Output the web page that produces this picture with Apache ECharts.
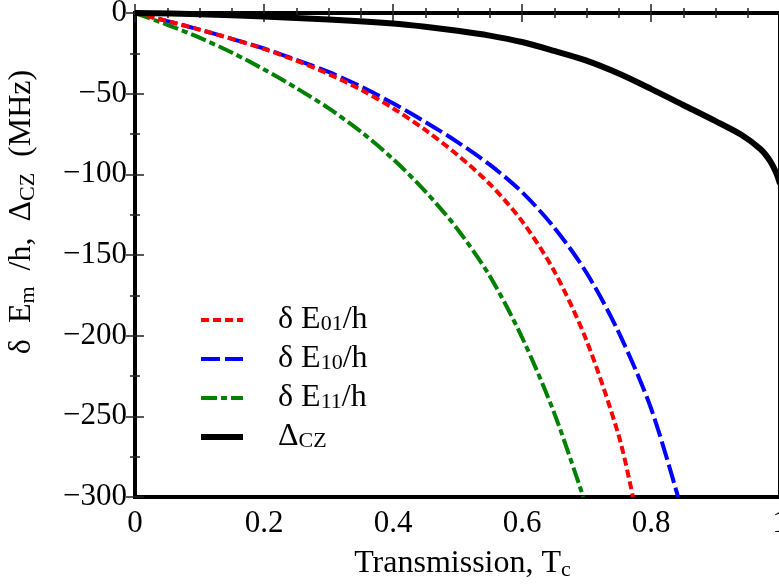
<!DOCTYPE html>
<html>
<head>
<meta charset="utf-8">
<script src="https://cdn.jsdelivr.net/npm/echarts@6/dist/echarts.min.js"></script>
<style>html,body{margin:0;padding:0;background:#fff}#c{width:779px;height:588px}</style>
</head>
<body>
<div id="c"></div>
<script>
// ---- data ----
var e01X = [0, 0.05, 0.1, 0.15, 0.2, 0.25, 0.3, 0.35, 0.4, 0.45, 0.5, 0.55, 0.6, 0.65, 0.7, 0.75, 0.772];
var e01Y = [0, -5, -10.3, -16, -22.3, -29.5, -37.8, -47.5, -59, -72.5, -88, -106, -129, -160, -203, -262, -300];
var e10X = [0, 0.05, 0.1, 0.15, 0.2, 0.25, 0.3, 0.35, 0.4, 0.45, 0.5, 0.55, 0.6, 0.65, 0.7, 0.75, 0.8, 0.842];
var e10Y = [0, -5, -10.3, -16, -22, -29, -36.5, -45.5, -56, -67.5, -80, -94, -111, -133, -161, -198, -245, -300];
var e11X = [0, 0.05, 0.1, 0.15, 0.2, 0.25, 0.3, 0.35, 0.4, 0.45, 0.5, 0.55, 0.6, 0.65, 0.695];
var e11Y = [0, -7.3, -15.3, -24.5, -35, -46.5, -59, -73.5, -90.5, -110.5, -134, -163, -201, -248, -300];
var czX = [0, 0.1, 0.2, 0.3, 0.4, 0.45, 0.5, 0.55, 0.6, 0.65, 0.7, 0.75, 0.8, 0.85, 0.9, 0.94, 0.97, 0.985, 0.995, 1.0];
var czY = [0, -0.7, -2.2, -4, -6.5, -8.5, -11, -14, -18, -23.5, -29.5, -37.5, -47, -57, -67, -75.5, -84.5, -92, -100, -106];
var seriesNames = ['E01', 'E10', 'E11', 'CZ'];
var xTicks = [0, 0.2, 0.4, 0.6, 0.8, 1];
var yTicks = [0, -50, -100, -150, -200, -250, -300];

function zip(xs, ys) { return xs.map(function (x, i) { return [x, ys[i]]; }); }

var FONT = 'Liberation Serif';
var rich = {
  n: { fontFamily: FONT, fontSize: 32, color: '#000', lineHeight: 30 },
  s: { fontFamily: FONT, fontSize: 22, color: '#000', lineHeight: 30, verticalAlign: 'bottom' }
};
var richAxis = {
  n: { fontFamily: FONT, fontSize: 32, color: '#000', lineHeight: 34 },
  s: { fontFamily: FONT, fontSize: 22, color: '#000', lineHeight: 34, verticalAlign: 'bottom' },
  g: { fontFamily: FONT, fontSize: 32, width: 16, lineHeight: 34 }
};

var legendLabel = {
  'E01': '{n|δ E}{s|01}{n|/h}',
  'E10': '{n|δ E}{s|10}{n|/h}',
  'E11': '{n|δ E}{s|11}{n|/h}',
  'CZ': '{n|Δ}{s|CZ}'
};

var styles = {
  E01: { color: '#ff0000', width: 4, type: [8, 4] },
  E10: { color: '#0000ff', width: 4, type: [19, 5] },
  E11: { color: '#008000', width: 4, type: [16, 4, 6, 4] },
  CZ: { color: '#000000', width: 6, type: 'solid' }
};

var tickStyle = { show: true, inside: true, length: 9, lineStyle: { color: '#222', width: 1.5 } };
var minorStyle = { show: true, length: 5, lineStyle: { color: '#222', width: 1.5 } };

var chart = echarts.init(document.getElementById('c'), null, { renderer: 'canvas' });
chart.setOption({
  animation: false,
  backgroundColor: '#fff',
  grid: { left: 135, right: -1, top: 13, bottom: 91, outerBoundsMode: 'none', containLabel: false,
    show: true, borderColor: '#000', borderWidth: 4, backgroundColor: 'transparent' },
  legend: {
    orient: 'vertical', left: 198, top: 304, padding: 0,
    itemWidth: 42, itemHeight: 2, itemGap: 7,
    data: seriesNames.map(function (n) {
      return { name: n, lineStyle: { width: styles[n].width, type: styles[n].type, color: styles[n].color } };
    }),
    itemStyle: { opacity: 0 },
    formatter: function (name) { return legendLabel[name]; },
    textStyle: { rich: rich, padding: [0, 0, 0, 30] }
  },
  xAxis: [{
    type: 'value', min: xTicks[0], max: xTicks[xTicks.length - 1], interval: 0.2, position: 'bottom',
    axisLine: { show: false }, splitLine: { show: false },
    axisTick: tickStyle, minorTick: Object.assign({ splitNumber: 4 }, minorStyle),
    axisLabel: { fontFamily: FONT, fontSize: 31, color: '#000', margin: 11,
      formatter: function (v) { return (v === 0 || v === 1) ? String(v) : v.toFixed(1); } },
    name: '{n|Transmission, T}{s|c}', nameLocation: 'middle', nameGap: 50,
    nameTextStyle: { rich: richAxis, padding: [0, 0, 0, 10] }
  }, {
    type: 'value', min: 0, max: 1, interval: 0.2, position: 'top',
    axisLine: { show: false }, splitLine: { show: false },
    axisTick: tickStyle, minorTick: Object.assign({ splitNumber: 4 }, minorStyle),
    axisLabel: { show: false }
  }],
  yAxis: [{
    type: 'value', min: yTicks[yTicks.length - 1], max: yTicks[0], interval: 50, position: 'left',
    axisLine: { show: false }, splitLine: { show: false },
    axisTick: tickStyle, minorTick: Object.assign({ splitNumber: 2 }, minorStyle),
    axisLabel: { fontFamily: FONT, fontSize: 31, color: '#000', margin: 8,
      formatter: function (v) { return v === 0 ? '0' : '\u2212' + Math.abs(v); } },
    name: '{n|δ}{g| }{n|E}{s|m}{g| }{n|/h,}{g| }{n|Δ}{s|CZ}{g| }{n|(MHz)}',
    nameLocation: 'middle', nameGap: 96, nameRotate: 90,
    nameTextStyle: { rich: richAxis, padding: [0, 0, 0, 86] }
  }, {
    type: 'value', min: -300, max: 0, interval: 50, position: 'right',
    axisLine: { show: false }, splitLine: { show: false },
    axisTick: tickStyle, minorTick: Object.assign({ splitNumber: 2 }, minorStyle),
    axisLabel: { show: false }
  }],
  series: [
    { name: 'E01', type: 'line', data: zip(e01X, e01Y), showSymbol: false, symbol: 'none', smooth: 0.3,
      lineStyle: styles.E01, itemStyle: { color: styles.E01.color }, z: 3 },
    { name: 'E10', type: 'line', data: zip(e10X, e10Y), showSymbol: false, symbol: 'none', smooth: 0.3,
      lineStyle: styles.E10, itemStyle: { color: styles.E10.color }, z: 2 },
    { name: 'E11', type: 'line', data: zip(e11X, e11Y), showSymbol: false, symbol: 'none', smooth: 0.3,
      lineStyle: styles.E11, itemStyle: { color: styles.E11.color }, z: 2 },
    { name: 'CZ', type: 'line', data: zip(czX, czY), showSymbol: false, symbol: 'none', smooth: 0.3,
      lineStyle: styles.CZ, itemStyle: { color: styles.CZ.color }, z: 4 }
  ]
});
</script>
</body>
</html>
